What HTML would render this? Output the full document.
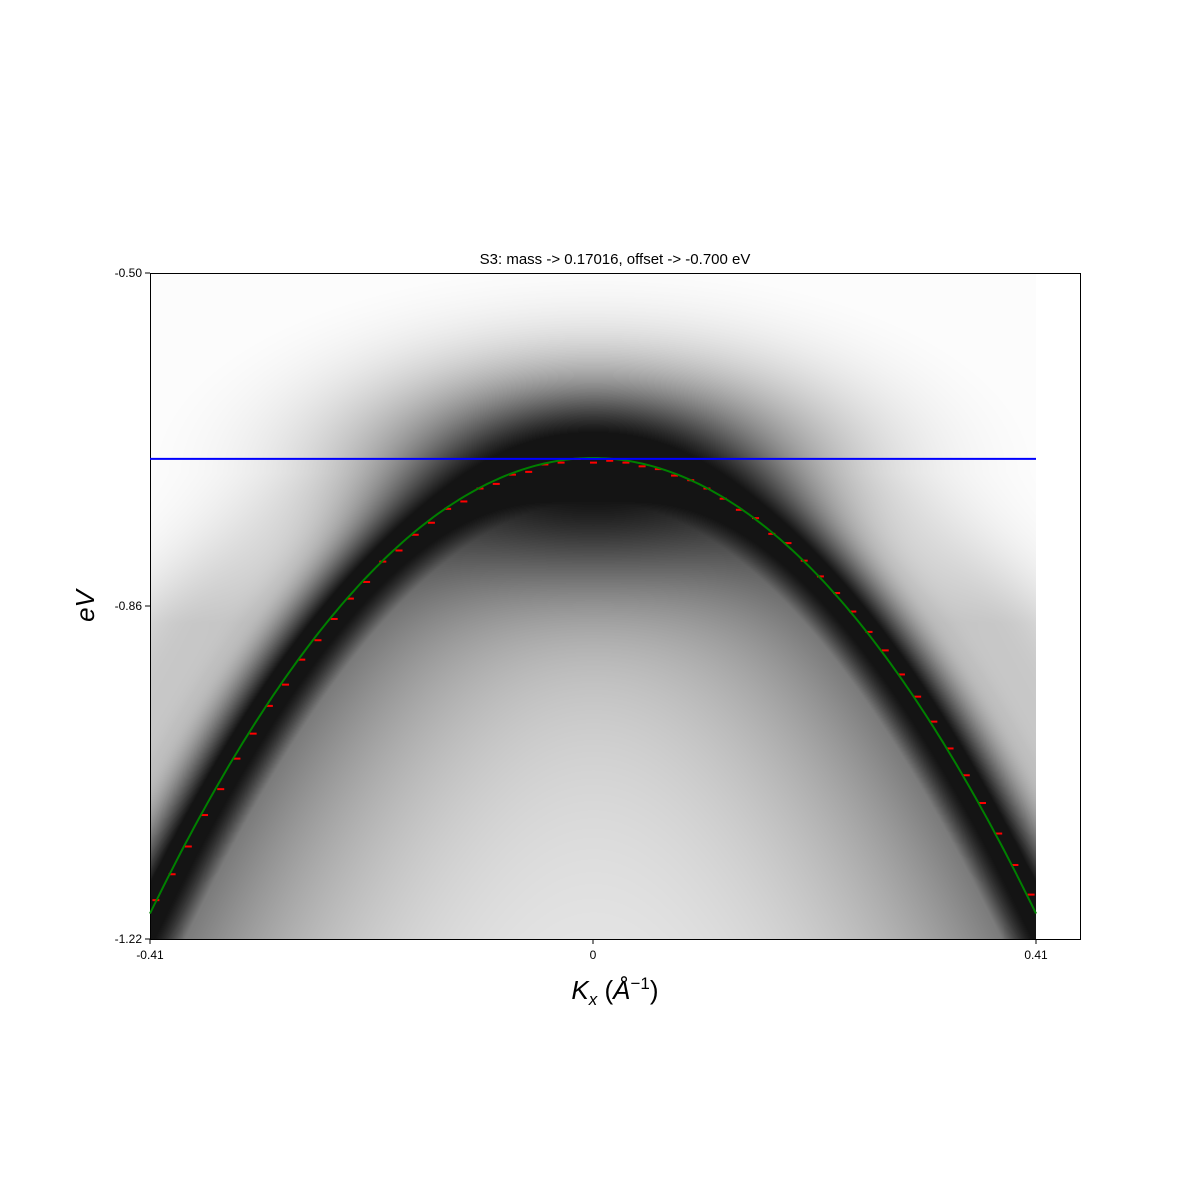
<!DOCTYPE html>
<html><head><meta charset="utf-8">
<style>
body{margin:0;background:#fff;width:1200px;height:1200px;overflow:hidden;font-family:"Liberation Sans",sans-serif;}
#wrap{position:relative;width:1200px;height:1200px;}
canvas{position:absolute;left:150px;top:273px;}
svg{position:absolute;left:0;top:0;}
</style></head>
<body>
<div id="wrap">
<canvas id="hm" width="886" height="666"></canvas>
<svg id="sv" width="1200" height="1200">
<text x="615" y="264" font-size="15" text-anchor="middle">S3: mass -&gt; 0.17016, offset -&gt; -0.700 eV</text>
<rect x="150.5" y="273.5" width="930" height="666" fill="none" stroke="#000" stroke-width="1"/>
<g id="ticks"></g>
<g id="marks"></g>
<text x="615" y="999" font-size="26" text-anchor="middle"><tspan font-style="italic">K</tspan><tspan font-size="17" font-style="italic" dy="6">x</tspan><tspan dy="-6"> (</tspan><tspan font-style="italic">Å</tspan><tspan font-size="17" dy="-10">−1</tspan><tspan dy="10">)</tspan></text>
<text transform="translate(94,606) rotate(-90)" font-size="26" font-style="italic" text-anchor="middle">eV</text>
</svg>
</div>
<script>
const xTicks=[-0.41,0,0.41];
const xTickLabels=["-0.41","0","0.41"];
const yTicks=[-0.50,-0.86,-1.22];
const yTickLabels=["-0.50","-0.86","-1.22"];
const fitOffset=[-0.700];
const fitCurv=[2.93];
const kPts=[-0.405,-0.39,-0.375,-0.36,-0.345,-0.33,-0.315,-0.30,-0.285,-0.27,-0.255,-0.24,-0.225,-0.21,-0.195,-0.18,-0.165,-0.15,-0.135,-0.12,-0.105,-0.09,-0.075,-0.06,-0.045,-0.03,-0.015,0,0.015,0.03,0.045,0.06,0.075,0.09,0.105,0.12,0.135,0.15,0.165,0.18,0.195,0.21,0.225,0.24,0.255,0.27,0.285,0.30,0.315,0.33,0.345,0.36,0.375,0.39,0.405];
const ePts=[-1.178,-1.150,-1.120,-1.086,-1.058,-1.025,-0.998,-0.968,-0.945,-0.918,-0.897,-0.874,-0.852,-0.834,-0.812,-0.800,-0.783,-0.770,-0.755,-0.747,-0.733,-0.728,-0.718,-0.715,-0.707,-0.705,-0.701,-0.705,-0.703,-0.705,-0.709,-0.712,-0.719,-0.724,-0.733,-0.744,-0.756,-0.765,-0.782,-0.792,-0.811,-0.828,-0.846,-0.866,-0.888,-0.908,-0.934,-0.958,-0.985,-1.014,-1.043,-1.073,-1.106,-1.140,-1.172];
const hLine=[-0.701];

const X=k=>150+(k+0.41)/0.82*886;
const Y=e=>273+(-0.5-e)/0.72*666;
const NS="http://www.w3.org/2000/svg";
function mk(t,a,p){const e=document.createElementNS(NS,t);for(const k in a)e.setAttribute(k,a[k]);p.appendChild(e);return e;}
const tg=document.getElementById('ticks'),mg=document.getElementById('marks');
xTicks.forEach((v,i)=>{const x=X(v);
 const l=mk('line',{x1:x,x2:x,y1:939,y2:944,stroke:'#000'},tg);
 
 
 const t=mk('text',{x:x,y:959,'font-size':12,'text-anchor':'middle'},tg);t.textContent=xTickLabels[i];
 
 });
yTicks.forEach((v,i)=>{const y=Y(v);
 const l=mk('line',{x1:145,x2:150,y1:y,y2:y,stroke:'#000'},tg);
 
 
 const t=mk('text',{x:142,y:y+4,'font-size':12,'text-anchor':'end'},tg);t.textContent=yTickLabels[i];
 
 });

const cv=document.getElementById('hm'),ctx=cv.getContext('2d');
const W=886,H=666,img=ctx.createImageData(W,H);
const E0=fitOffset[0],C=fitCurv[0];
for(let px=0;px<W;px++){
 const k=-0.41+px/W*0.82;
 const yb=Y(E0-C*k*k)-273;
 const slope=(2*C*Math.abs(k))*(666/0.72)/(886/0.82);
 const nrm=Math.sqrt(1+slope*slope);
 const yb3=Y(-0.56-C*0.78*k*k)-273;
 for(let py=0;py<H;py++){
  const d=(py-yb)/nrm-6;
  let v;
  if(d<0){v=0.95*Math.exp(-d*d/(2*32*32))+0.22*Math.exp(d/35);}
  else{v=0.95*Math.exp(-d*d/(2*34*34));
   v=Math.max(v,0.55*Math.exp(-d/180)+0.07);}
  const d3=(py-yb3)/nrm;
  if(d<-30 && py>200) v+=0.2*Math.exp(-d3*d3/(2*40*40))*Math.min(1,(-d-30)/40)*Math.min(1,(py-200)/150);
  const bx=(px-443)/150, by=(py-200)/70;
  const b=0.9*Math.exp(-(bx*bx+by*by)/2);
  v=1-(1-v)*(1-b);
  v=Math.min(0.92,Math.max(0.01,v));
  const c=Math.round(255*(1-v));
  const i=(py*W+px)*4;img.data[i]=img.data[i+1]=img.data[i+2]=c;img.data[i+3]=255;
 }}
ctx.putImageData(img,0,0);

kPts.forEach((k,i)=>{const r=mk('rect',{x:X(k)-3,y:Y(ePts[i])-1,width:7,height:2,fill:'#f00'},mg);
 
 });
let d='';for(let i=0;i<=200;i++){const k=-0.41+i/200*0.82;d+=(i?'L':'M')+X(k).toFixed(1)+','+Y(fitOffset[0]-fitCurv[0]*k*k).toFixed(1);}
const fc=mk('path',{d:d,fill:'none',stroke:'#008000','stroke-width':2},mg);


const hl=mk('line',{x1:X(-0.41),x2:X(0.41),y1:Y(hLine[0]),y2:Y(hLine[0]),stroke:'#0000ff','stroke-width':2},mg);


</script>
</body></html>
